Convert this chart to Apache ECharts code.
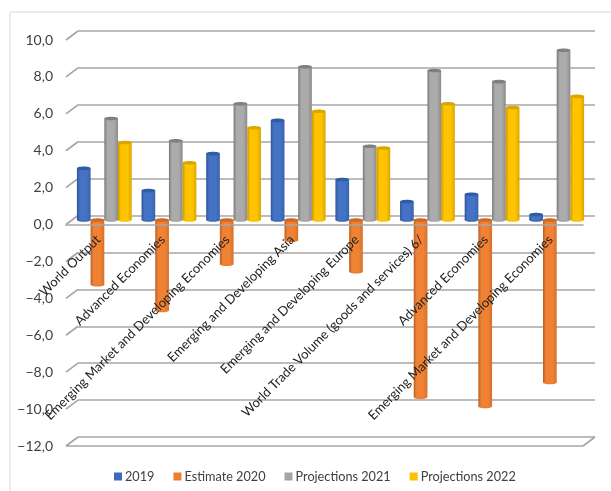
<!DOCTYPE html>
<html><head><meta charset="utf-8">
<style>html,body{margin:0;padding:0;background:#fff}#c{width:611px;height:491px}</style>
<script src="https://cdn.jsdelivr.net/npm/echarts@6/dist/echarts.min.js"></script>
</head><body><div id="c"></div>
<script>
const categories = ["World Output","Advanced Economies","Emerging Market and Developing Economies","Emerging and Developing Asia","Emerging and Developing Europe","World Trade Volume (goods and services) 6/","Advanced Economies","Emerging Market and Developing Economies"];
const s2019 = [2.8,1.6,3.6,5.4,2.2,1.0,1.4,0.3];
const e2020 = [-3.5,-4.9,-2.4,-1.1,-2.8,-9.6,-10.1,-8.8];
const p2021 = [5.5,4.3,6.3,8.3,4.0,8.1,7.5,9.2];
const p2022 = [4.2,3.1,5.0,5.9,3.9,6.3,6.1,6.7];
const seriesNames = ["2019","Estimate 2020","Projections 2021","Projections 2022"];
const seriesValues = [s2019,e2020,p2021,p2022];
const yTicks = [10,8,6,4,2,0,-2,-4,-6,-8,-10,-12];

const palette = [
 {base:'#4472C4',edge:'#2F5597',right:'#3A62AC',cap:'#2F5CA6',end:'#3E6ABA'},
 {base:'#F08236',edge:'#B85F22',right:'#D5702A',cap:'#CC6A26',end:'#ED7D31'},
 {base:'#ABABAB',edge:'#7A7A7A',right:'#8C8C8C',cap:'#7F7F7F',end:'#A5A5A5'},
 {base:'#FFC400',edge:'#C99700',right:'#D9A600',cap:'#DBA600',end:'#FFC000'}
];
const lineCol='#A6A6A6';
const labelFont='Lato';

function cylinder(si){
  return function(params,api){
    const c=api.value(0), v=api.value(1);
    const p0=api.coord([c,0]), p1=api.coord([c,v]);
    const band=api.size([1,0])[0], w=band*0.212;
    const x=p0[0]+(si-1.5)*w, rx=w/2, ry=Math.max(1.6,w*0.13);
    const p=palette[si];
    const grad=new echarts.graphic.LinearGradient(0,0,1,0,[
      {offset:0,color:p.edge},{offset:0.22,color:p.base},{offset:0.7,color:p.base},{offset:1,color:p.right}]);
    const top=Math.min(p0[1],p1[1]), bot=Math.max(p0[1],p1[1]);
    return {type:'group',children:[
      {type:'ellipse',shape:{cx:x,cy:bot,rx:rx,ry:ry},style:{fill:p.end}},
      {type:'rect',shape:{x:x-rx,y:top,width:w,height:bot-top},style:{fill:grad}},
      {type:'ellipse',shape:{cx:x,cy:top,rx:rx,ry:ry},style:{fill:p.cap}}
    ]};
  };
}

const bars=seriesNames.map((n,si)=>({
  name:n,type:'custom',xAxisIndex:2,yAxisIndex:2,z:3,clip:false,
  itemStyle:{color:palette[si].end},
  encode:{x:0,y:1},
  data:seriesValues[si].map((v,i)=>[i,v]),
  renderItem:cylinder(si)
}));

const frame={
  type:'custom',xAxisIndex:0,yAxisIndex:0,z:1,silent:true,clip:false,legendHoverLink:false,
  encode:{y:0},
  data:yTicks.map(v=>[v]),
  renderItem(params,api){
    const v=api.value(0), pt=api.coord([0,v]);
    const cs=params.coordSys, L=cs.x, R=cs.x+cs.width, y=pt[1];
    const st={stroke:lineCol,lineWidth:1.7};
    const kids=[{type:'line',shape:{x1:L,y1:y,x2:L+12,y2:y-9},style:st}];
    if(v===-12){
      kids.push({type:'line',shape:{x1:L,y1:y,x2:R,y2:y},style:st});
      kids.push({type:'line',shape:{x1:R,y1:y,x2:R+12,y2:y-9},style:st});
    }
    return {type:'group',children:kids};
  }
};

const yBase={type:'value',min:-12,max:10,interval:2};
const hiddenCat=(g)=>({type:'category',gridIndex:g,data:categories,axisLine:{show:false},axisTick:{show:false},axisLabel:{show:false},splitLine:{show:false}});
const gridOff={outerBoundsMode:'none',containLabel:false};

const chart=echarts.init(document.getElementById('c'),null,{renderer:'canvas'});
chart.setOption({
  animation:false,
  backgroundColor:'#fff',
  textStyle:{fontFamily:labelFont},
  grid:[
    Object.assign({left:66,top:40,width:517,height:406},gridOff),
    Object.assign({left:78,top:31,width:517,height:406},gridOff),
    Object.assign({left:72,top:35.5,width:517,height:406},gridOff),
    Object.assign({left:66,top:40,width:517,height:184.5},gridOff)
  ],
  xAxis:[
    hiddenCat(0),hiddenCat(1),hiddenCat(2),
    {type:'category',gridIndex:3,data:categories,z:6,position:'bottom',
      axisLine:{show:true,onZero:false,lineStyle:{color:lineCol,width:1.7}},
      axisTick:{show:false},
      axisLabel:{interval:0,rotate:45,margin:13,fontSize:13,color:'#222',fontFamily:labelFont}}
  ],
  yAxis:[
    Object.assign({},yBase,{gridIndex:0,axisLine:{show:false},axisTick:{show:false},splitLine:{show:false},
      axisLabel:{margin:13,fontSize:14,color:'#404040',fontFamily:labelFont,
        formatter:v=>v.toFixed(1).replace('.',',').replace('-','\u2212')}}),
    Object.assign({},yBase,{gridIndex:1,axisLine:{show:false},axisTick:{show:false},axisLabel:{show:false},
      splitLine:{show:true,lineStyle:{color:lineCol,width:1.7}}}),
    Object.assign({},yBase,{gridIndex:2,axisLine:{show:false},axisTick:{show:false},axisLabel:{show:false},splitLine:{show:false}}),
    {type:'value',gridIndex:3,min:0,max:10,show:false}
  ],
  legend:{left:114,top:470,padding:0,icon:'rect',itemWidth:8,itemHeight:8,itemGap:19,
    data:seriesNames,
    textStyle:{fontSize:12.7,color:'#404040',fontFamily:labelFont,padding:[0,0,0,-2]}},
  graphic:[
    {type:'line',shape:{x1:10,y1:12,x2:611,y2:12},style:{stroke:'#ECECEC',lineWidth:2},silent:true},
    {type:'line',shape:{x1:10,y1:12,x2:10,y2:491},style:{stroke:'#ECECEC',lineWidth:2},silent:true}
  ],
  series:[frame].concat(bars)
});
</script></body></html>
